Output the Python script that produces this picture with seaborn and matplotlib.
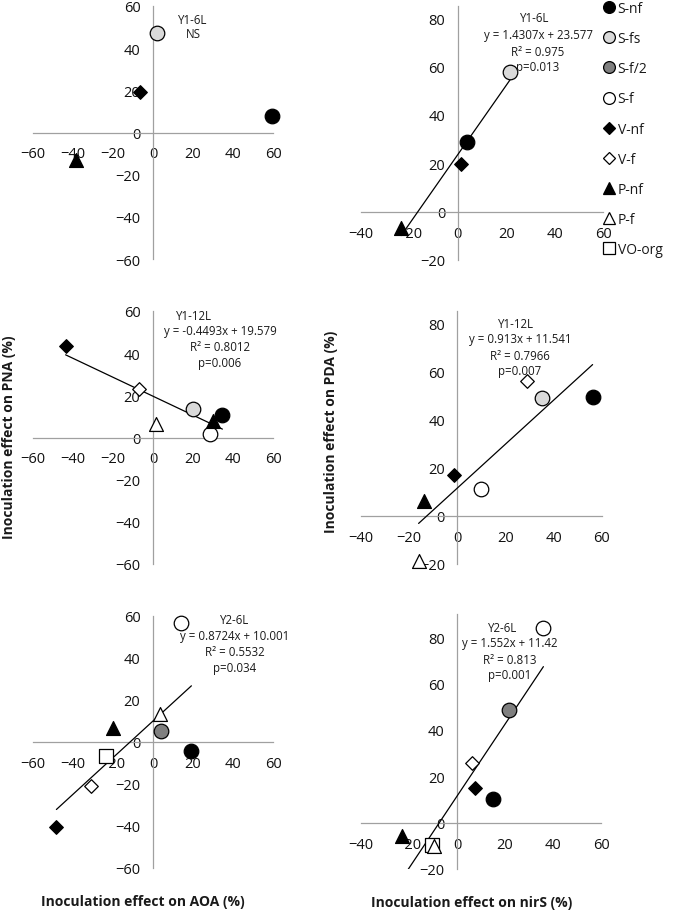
import numpy as np
import pandas as pd
import matplotlib
matplotlib.use('Agg')
import matplotlib.pyplot as plt
from matplotlib.lines import Line2D
import seaborn as sns

# ---- data ------------------------------------------------------------------
treatments = ['S-nf', 'S-fs', 'S-f/2', 'S-f', 'V-nf', 'V-f', 'P-nf', 'P-f', 'VO-org']

# panel 1: Y1-6L (top-left, AOA on x)
p1_trt = ['S-nf', 'S-fs', 'V-nf', 'P-nf']
p1_x = [59.7, 2.2, -6.7, -38.7]
p1_y = [7.6, 47.4, 19.3, -13.0]

# panel 2: Y1-6L (top-right, nirS on x)
p2_trt = ['S-nf', 'S-fs', 'V-nf', 'P-nf']
p2_x = [3.7, 21.6, 1.2, -23.4]
p2_y = [28.6, 57.8, 19.8, -6.7]

# panel 3: Y1-12L, PNA vs AOA
p3_trt = ['S-nf', 'S-fs', 'S-f', 'V-nf', 'V-f', 'P-nf', 'P-f']
p3_x = [34.7, 20.0, 28.7, -43.7, -7.0, 30.0, 1.7]
p3_y = [10.6, 13.3, 1.6, 43.4, 23.2, 7.9, 6.3]

# panel 4: Y1-12L, PDA vs nirS
p4_trt = ['S-nf', 'S-fs', 'S-f', 'V-nf', 'V-f', 'P-nf', 'P-f']
p4_x = [56.1, 34.9, 9.6, -1.5, 29.0, -14.0, -16.1]
p4_y = [49.5, 49.1, 11.1, 17.0, 56.0, 6.0, -18.7]

# panel 5: Y2-6L, AOA
p5_trt = ['S-nf', 'S-f/2', 'S-f', 'V-nf', 'V-f', 'P-nf', 'P-f', 'VO-org']
p5_x = [19.2, 4.2, 14.2, -48.3, -30.8, -20.0, 3.7, -23.7]
p5_y = [-4.3, 5.3, 56.8, -40.5, -21.0, 6.9, 13.2, -6.7]

# panel 6: Y2-6L, nirS
p6_trt = ['S-nf', 'S-f/2', 'S-f', 'V-nf', 'V-f', 'P-nf', 'P-f', 'VO-org']
p6_x = [15.1, 21.8, 36.0, 7.4, 6.3, -22.9, -9.6, -10.3]
p6_y = [10.4, 48.7, 83.9, 15.1, 25.6, -5.8, -10.1, -9.8]

# trend lines (None = not significant)
slopes = [None, 1.4307, -0.4493, 0.913, 0.8724, 1.552]
intercepts = [None, 23.577, 19.579, 11.541, 10.001, 11.42]

titles = ['Y1-6L', 'Y1-6L', 'Y1-12L', 'Y1-12L', 'Y2-6L', 'Y2-6L']
stats = [['NS'],
         ['y = 1.4307x + 23.577', 'R² = 0.975', 'p=0.013'],
         ['y = -0.4493x + 19.579', 'R² = 0.8012', 'p=0.006'],
         ['y = 0.913x + 11.541', 'R² = 0.7966', 'p=0.007'],
         ['y = 0.8724x + 10.001', 'R² = 0.5532', 'p=0.034'],
         ['y = 1.552x + 11.42', 'R² = 0.813', 'p=0.001']]

left_ticks = [-60, -40, -20, 0, 20, 40, 60]
right_xticks = [-40, -20, 0, 20, 40, 60]
right_yticks = [-20, 0, 20, 40, 60, 80]

# ---- styles ------------------------------------------------------------------
face = {'S-nf': '#000000', 'S-fs': '#d9d9d9', 'S-f/2': '#7f7f7f', 'S-f': '#ffffff',
        'V-nf': '#000000', 'V-f': '#ffffff', 'P-nf': '#000000', 'P-f': '#ffffff',
        'VO-org': '#ffffff'}
mark = {'S-nf': 'o', 'S-fs': 'o', 'S-f/2': 'o', 'S-f': 'o', 'V-nf': 'D', 'V-f': 'D',
        'P-nf': '^', 'P-f': '^', 'VO-org': 's'}
msize = {'o': 110, 'D': 48, '^': 100, 's': 105}
# the open square sits under the other markers
layer = {'o': 4, 'D': 4, '^': 4, 's': 3.5}

sns.set_style('white')
plt.rcParams['font.family'] = ['Open Sans', 'DejaVu Sans']
plt.rcParams['text.color'] = '#1a1a1a'

fig = plt.figure(figsize=(6.75, 9.12), dpi=100)
W, H = 675.0, 912.0

# axes boxes in pixels: left, top, right, bottom
boxes = [(33, 7, 273, 260), (361, 7, 603, 261),
         (33, 312, 273, 565), (361, 312, 602, 565),
         (33, 617, 273, 869), (361, 615, 601, 870)]
limits = [((-60, 60), (-60, 60)), ((-40, 60), (-20, 85)),
          ((-60, 60), (-60, 60)), ((-40, 60), (-20, 85)),
          ((-60, 60), (-60, 60)), ((-40, 60), (-20, 90))]
# annotation centres in figure pixels: title, then the stats lines
title_px = [(193, 20), (535, 19), (194, 316), (516, 324), (235, 620), (503, 628)]
stats_px = [(193, 35), (538, 36), (220, 332), (520, 340), (235, 637), (510, 644)]
line_step = 16

panels = [(p1_trt, p1_x, p1_y), (p2_trt, p2_x, p2_y), (p3_trt, p3_x, p3_y),
          (p4_trt, p4_x, p4_y), (p5_trt, p5_x, p5_y), (p6_trt, p6_x, p6_y)]

for i, (trt, xs, ys) in enumerate(panels):
    l, t, r, b = boxes[i]
    ax = fig.add_axes([l / W, 1 - b / H, (r - l) / W, (b - t) / H])
    ax.patch.set_alpha(0)
    df = pd.DataFrame({'treatment': trt, 'x': xs, 'y': ys})

    (x0, x1), (y0, y1) = limits[i]
    ax.set_xlim(x0, x1)
    ax.set_ylim(y0, y1)

    if slopes[i] is not None:
        lx = np.array([df['x'].min(), df['x'].max()])
        line = pd.DataFrame({'x': lx, 'y': slopes[i] * lx + intercepts[i]})
        sns.lineplot(data=line, x='x', y='y', color='black', lw=0.9, ax=ax, zorder=3)

    for _, row in df.iterrows():
        m = mark[row['treatment']]
        sns.scatterplot(x=[row['x']], y=[row['y']], marker=m, s=msize[m],
                        color=face[row['treatment']], edgecolor='black', linewidth=0.9,
                        ax=ax, zorder=layer[m], clip_on=False)

    if i % 2 == 0:
        ax.set_xticks(left_ticks)
        ax.set_yticks(left_ticks)
    else:
        ax.set_xticks(right_xticks)
        ax.set_yticks(right_yticks)

    for side in ['top', 'right']:
        ax.spines[side].set_visible(False)
    for side in ['left', 'bottom']:
        ax.spines[side].set_position(('data', 0))
        ax.spines[side].set_color('#a0a0a0')
        ax.spines[side].set_linewidth(0.9)
    ax.tick_params(length=0, labelsize=10.5, colors='#111111')
    ax.tick_params(axis='x', pad=10)
    ax.tick_params(axis='y', pad=9)
    ax.set_xlabel('')
    ax.set_ylabel('')

    tx, ty = title_px[i]
    fig.text(tx / W, 1 - ty / H, titles[i], ha='center', va='center', fontsize=8.3)
    sx, sy = stats_px[i]
    for k, s in enumerate(stats[i]):
        fig.text(sx / W, 1 - (sy + k * line_step) / H, s, ha='center', va='center',
                 fontsize=8.3)

# axis titles
fig.text(9 / W, 1 - 437 / H, 'Inoculation effect on PNA (%)', rotation=90,
         ha='center', va='center', fontsize=10, fontweight='bold')
fig.text(331 / W, 1 - 432 / H, 'Inoculation effect on PDA (%)', rotation=90,
         ha='center', va='center', fontsize=10, fontweight='bold')
fig.text(143 / W, 1 - 902 / H, 'Inoculation effect on AOA (%)',
         ha='center', va='center', fontsize=10, fontweight='bold')
fig.text(472 / W, 1 - 903 / H, 'Inoculation effect on nirS (%)',
         ha='center', va='center', fontsize=10, fontweight='bold')

# legend
handles = [Line2D([], [], ls='', marker=mark[t], markerfacecolor=face[t],
                  markeredgecolor='black', markeredgewidth=0.9,
                  markersize=8.5 if mark[t] != 'D' else 6.2) for t in treatments]
fig.legend(handles, treatments, loc='upper left', bbox_to_anchor=(603 / W, 1 - 2 / H),
           frameon=False, fontsize=10, handlelength=0.8, handletextpad=0.25,
           labelspacing=1.09, borderpad=0, borderaxespad=0)

fig.savefig('out.png', dpi=100)
